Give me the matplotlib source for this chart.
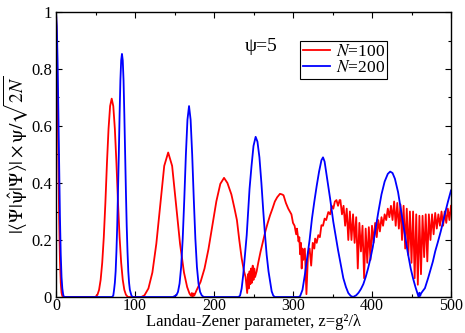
import matplotlib
matplotlib.use("Agg")
import matplotlib.pyplot as plt
from matplotlib.ticker import MultipleLocator, FixedLocator

plt.rcParams['font.family'] = ['Liberation Serif', 'DejaVu Serif']
plt.rcParams['mathtext.fontset'] = 'stix'

# ---- data (N=100, red) ----
red_z = [0, 1, 2, 3, 4, 5, 6, 7, 8, 10, 50, 52.5, 54.5, 56.5, 58.5, 60.5, 62.5, 64.5, 66.5, 68.5,
         70.5, 72.5, 74.5, 76.5, 78.5, 80.5, 82.5, 84.5, 86.5, 88.5, 91, 108, 112, 117, 122, 127,
         132, 137, 142, 147, 152, 157, 162, 166, 169, 171, 172, 173, 174, 175, 178, 183, 188, 193,
         198, 203, 208, 212.7, 217, 222, 226, 229, 232, 235, 238, 240, 241, 242, 243, 244, 245,
         246, 247, 248, 249, 250, 251, 252, 254, 256, 259, 262, 265, 268, 271, 274, 277, 280,
         283.5, 286, 288, 291, 294, 296, 298, 300, 302, 304, 305, 307, 308, 309, 310, 311, 312,
         313, 315, 317, 319, 321, 323, 325, 327, 328, 330, 332, 334, 336, 338, 340, 342, 344.7,
         347, 349, 351, 353, 355, 357, 359,
         360, 362, 364, 366, 368, 370, 372, 374, 376, 378, 380, 382, 384, 386, 388, 390, 392,
         394, 396, 398, 400, 402, 404, 406, 408, 410, 412, 414, 416, 418, 420, 422, 424, 426,
         428, 430, 432, 434, 436, 438, 440, 442, 444, 446, 448, 450, 452, 454, 456, 458, 460,
         462, 464, 466, 468, 470, 472, 474, 476, 478, 480, 482, 484, 486, 488, 490, 492, 494,
         496, 498, 500]
red_v = [1.0, 0.9, 0.7, 0.47, 0.27, 0.13, 0.05, 0.015, 0.003, 0.0, 0.0, 0.008, 0.025, 0.06, 0.12,
         0.21, 0.33, 0.47, 0.59, 0.67, 0.696, 0.67, 0.59, 0.47, 0.33, 0.21, 0.12, 0.06, 0.025,
         0.008, 0.0, 0.0, 0.006, 0.03, 0.086, 0.187, 0.325, 0.46, 0.507, 0.46, 0.325, 0.187,
         0.086, 0.035, 0.012, 0.004, 0.014, 0.002, 0.012, 0.005, 0.024, 0.053, 0.10, 0.168,
         0.252, 0.336, 0.397, 0.418, 0.40, 0.36, 0.31, 0.27, 0.2, 0.136, 0.09, 0.07, 0.04, 0.014,
         0.08, 0.03, 0.09, 0.045, 0.10, 0.05, 0.11, 0.06, 0.10, 0.07, 0.09, 0.12, 0.16, 0.195,
         0.23, 0.26, 0.287, 0.31, 0.335, 0.35, 0.362, 0.36, 0.357, 0.33, 0.31, 0.30, 0.29, 0.26,
         0.25, 0.22, 0.24, 0.195, 0.21, 0.15, 0.19, 0.10, 0.17, 0.13, 0.17, 0.01, 0.15, 0.17,
         0.11, 0.19, 0.17, 0.205, 0.19, 0.217, 0.21, 0.252, 0.25, 0.275, 0.27, 0.298, 0.29,
         0.32, 0.31, 0.335, 0.34, 0.32, 0.34,
         0.34, 0.29, 0.32, 0.25, 0.31, 0.2, 0.30, 0.2, 0.29, 0.19, 0.28, 0.10, 0.26, 0.16, 0.25,
         0.066, 0.24, 0.12, 0.245, 0.13, 0.25, 0.19, 0.26, 0.21, 0.27, 0.23, 0.28, 0.25, 0.29,
         0.27, 0.31, 0.28, 0.32, 0.27, 0.335, 0.25, 0.33, 0.24, 0.325, 0.20, 0.32, 0.17, 0.31,
         0.147, 0.30, 0.12, 0.30, 0.066, 0.29, 0.043, 0.285, 0.08, 0.285, 0.14, 0.29, 0.125,
         0.29, 0.20, 0.29, 0.22, 0.295, 0.24, 0.29, 0.25, 0.30, 0.25, 0.30, 0.26, 0.31, 0.27,
         0.32]

# ---- data (N=200, blue) ----
blue_z = [0, 1, 2, 3, 4, 5, 6, 7, 8, 9, 10, 71, 72.5, 73.5, 74.5, 75.5, 76.5, 77.5, 78.5, 79.5,
          80.5, 81.5, 82.5, 83.5, 84.5, 85.5, 86.5, 87.5, 88.5, 89.5, 90.5, 91.5, 92.5, 93.5,
          95.5, 97, 148, 150, 152.4, 154.4, 156.4, 158.4, 160.4, 162.4, 164.4, 166.4, 168.4,
          170.4, 172.4, 174.4, 176.4, 178.4, 180.4, 182.4, 184.4, 187, 231, 233, 235, 237, 239,
          241.4, 243, 245, 247.5, 250, 252.7, 255, 257.5, 260, 262.4, 264.5, 266.7, 269, 271,
          273, 275, 277, 307, 309, 312, 315, 318, 321, 324, 327, 330, 333, 336, 338, 340, 343,
          347, 351, 354, 357, 360, 363.7, 367, 370, 373, 376, 380, 383, 386, 389, 392, 395, 398,
          401, 404, 408, 412, 416, 420, 423, 426, 429, 433, 437, 441, 445, 449, 452, 455, 457,
          458, 459, 460, 461, 462, 464, 467, 471, 474, 477, 480, 483.5, 487, 490, 493, 496, 500]
blue_v = [1.0, 0.95, 0.83, 0.65, 0.45, 0.28, 0.15, 0.07, 0.03, 0.01, 0.0, 0.0, 0.005, 0.025,
          0.05, 0.09, 0.16, 0.25, 0.37, 0.5, 0.64, 0.76, 0.83, 0.853, 0.83, 0.76, 0.64, 0.5,
          0.37, 0.25, 0.16, 0.09, 0.05, 0.025, 0.005, 0.0, 0.0, 0.003, 0.006, 0.018, 0.047,
          0.105, 0.205, 0.344, 0.499, 0.622, 0.67, 0.622, 0.499, 0.344, 0.205, 0.105, 0.047,
          0.018, 0.006, 0.0, 0.0, 0.005, 0.03, 0.078, 0.14, 0.217, 0.29, 0.38, 0.46, 0.53, 0.562,
          0.545, 0.49, 0.4, 0.30, 0.22, 0.147, 0.09, 0.055, 0.02, 0.005, 0.0, 0.0, 0.003, 0.025,
          0.078, 0.14, 0.2, 0.275, 0.335, 0.39, 0.44, 0.48, 0.49, 0.475, 0.42, 0.345, 0.264,
          0.215, 0.165, 0.12, 0.066, 0.035, 0.014, 0.004, 0.0, 0.006, 0.015, 0.028, 0.045, 0.07,
          0.10, 0.135, 0.175, 0.23, 0.298, 0.36, 0.405, 0.432, 0.44, 0.435, 0.415, 0.368, 0.30,
          0.23, 0.16, 0.10, 0.065, 0.035, 0.018, 0.01, 0.0, 0.015, 0.004, 0.012, 0.02, 0.031,
          0.066, 0.095, 0.124, 0.16, 0.194, 0.23, 0.264, 0.3, 0.333, 0.374]

series_labels = [r'$N$=100', r'$N$=200']
annotation = 'ψ=5'
x_ticks = [0, 100, 200, 300, 400, 500]
y_ticks = [0, 0.2, 0.4, 0.6, 0.8, 1.0]
y_ticklabels = ['0', '0.2', '0.4', '0.6', '0.8', '1']

fig = plt.figure(figsize=(4.65, 3.33), dpi=100)
ax = fig.add_axes([56/465, 1-297/333, 395/465, 285/333])

ax.plot(red_z, red_v, color='#ff0000', lw=1.3, label=series_labels[0])
ax.plot(blue_z, blue_v, color='#0000ff', lw=1.3, label=series_labels[1])

ax.set_xlim(0, 500)
ax.set_ylim(0, 1)
ax.xaxis.set_major_locator(FixedLocator(x_ticks))
ax.xaxis.set_minor_locator(MultipleLocator(50))
ax.yaxis.set_major_locator(FixedLocator(y_ticks))
ax.set_yticklabels(y_ticklabels)
ax.yaxis.set_minor_locator(MultipleLocator(0.1))
ax.tick_params(which='both', direction='in', top=True, right=True, labelsize=12)
ax.tick_params(which='major', length=4.5, width=0.8)
ax.tick_params(axis='x', which='major', pad=1.0, labelsize=11.5)
ax.tick_params(axis='y', which='major', pad=3)
ax.tick_params(which='minor', length=2.3, width=0.8)
for s in ax.spines.values():
    s.set_linewidth(1.0)

ax.set_xlabel('Landau-Zener parameter, z=g²/λ', fontsize=12, labelpad=0)
ax.set_ylabel(r'$|\langle\Psi|\hat{\mathrm{\psi}}|\Psi\rangle|\times\mathrm{\psi}/\sqrt{2N}$',
              fontsize=14, labelpad=0)

ax.text(239, 0.878, annotation, fontsize=14, va='center', ha='left')

leg = ax.legend(loc='upper left', bbox_to_anchor=(0.618, 0.8965), borderaxespad=0,
                fontsize=12.5, handlelength=1.6, handletextpad=0.3, borderpad=0.15,
                labelspacing=0.0, fancybox=False, edgecolor='black', framealpha=1)
leg.get_frame().set_linewidth(0.8)

fig.savefig('out.png', dpi=100)
